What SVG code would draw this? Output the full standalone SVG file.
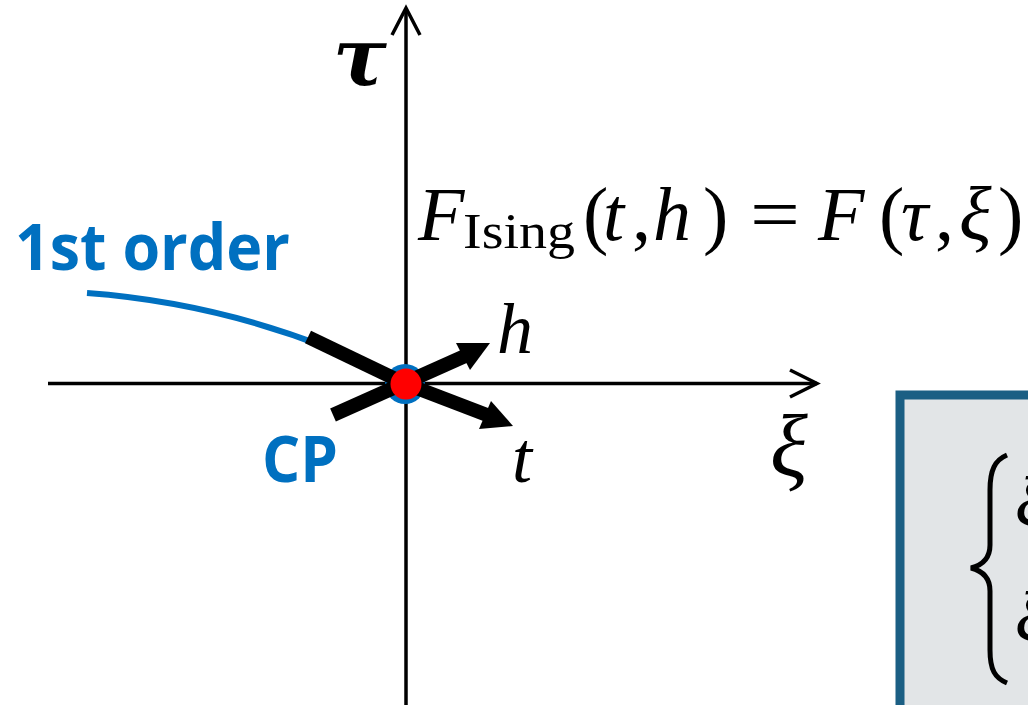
<svg xmlns="http://www.w3.org/2000/svg" width="1028" height="705" viewBox="0 0 1028 705">
<style>
.math{font-family:"Liberation Serif","DejaVu Serif",serif;font-style:italic;fill:#000}
.rm{font-family:"Liberation Serif","DejaVu Serif",serif;font-style:normal;fill:#000}
.blue{font-family:"Open Sans","Liberation Sans",sans-serif;font-weight:700;fill:#0070C0}
.axis{stroke:#000;stroke-width:3.5;fill:none}
.thick{stroke:#000;stroke-width:14;fill:none}
</style>
<rect width="1028" height="705" fill="#fff"/>
<g id="box">
<rect x="900" y="395" width="200" height="400" fill="#E2E5E7" stroke="#1B5F84" stroke-width="9"/>
<path d="M1007,455 C995,460 990,470 990,490 L990,545 C990,558 983,565 971,568 C983,571 990,578 990,591 L990,650 C990,670 995,678 1007,683" fill="none" stroke="#000" stroke-width="5"/>
<text class="math" x="1015" y="527" font-size="72">ξ</text>
<text class="math" x="1015" y="642" font-size="72">ξ</text>
</g>
<g id="connectors">
<line class="axis" x1="48" y1="383.5" x2="817" y2="383.5"/>
<polyline class="axis" points="790,370 817,383.5 790,397"/>
<line class="axis" x1="406" y1="705" x2="406" y2="9"/>
<polyline class="axis" points="392,35 406,8 420,35"/>
<path d="M87,293 Q250,305 400,380" fill="none" stroke="#0070C0" stroke-width="6"/>
</g>
<g id="cp">
<circle cx="405" cy="384" r="20" fill="#0070C0"/>
<line class="thick" x1="308" y1="337" x2="406" y2="384"/>
<line class="thick" x1="406" y1="384" x2="487" y2="415"/>
<polygon points="513,426 479,429 491,401" fill="#000"/>
<line class="thick" x1="333" y1="415" x2="465" y2="356"/>
<polygon points="490,343 456,343 470,370" fill="#000"/>
<circle cx="406" cy="384" r="15.5" fill="#FF0000"/>
</g>
<g id="labels">
<text class="blue" x="15" y="270" font-size="64" textLength="275" lengthAdjust="spacingAndGlyphs">1st order</text>
<text class="blue" x="262" y="482" font-size="64" textLength="76" lengthAdjust="spacingAndGlyphs">CP</text>
<text class="math" x="497" y="353" font-size="72">h</text>
<text class="math" x="512" y="482" font-size="72">t</text>
<text class="math" x="770" y="476" font-size="88">ξ</text>
<text x="333" y="85" font-size="80" font-family="DejaVu Serif, serif" font-style="italic" font-weight="700">τ</text>
</g>
<g id="formula">
<text class="math" x="418" y="240" font-size="76">F</text>
<text class="rm" x="463" y="248" font-size="50" textLength="112" lengthAdjust="spacingAndGlyphs">Ising</text>
<text class="rm" x="583" y="240" font-size="76">(</text>
<text class="math" x="603" y="240" font-size="76">t</text>
<text class="rm" x="632" y="240" font-size="76">,</text>
<text class="math" x="653" y="240" font-size="76">h</text>
<text class="rm" x="703" y="240" font-size="76">)</text>
<text class="rm" x="750" y="240" font-size="76" textLength="50" lengthAdjust="spacingAndGlyphs">=</text>
<text class="math" x="818" y="240" font-size="76">F</text>
<text class="rm" x="879" y="240" font-size="76">(</text>
<text class="math" x="901" y="240" font-size="76">τ</text>
<text class="rm" x="935" y="240" font-size="76">,</text>
<text class="math" x="959" y="240" font-size="76">ξ</text>
<text class="rm" x="998" y="240" font-size="76">)</text>
</g>
</svg>
